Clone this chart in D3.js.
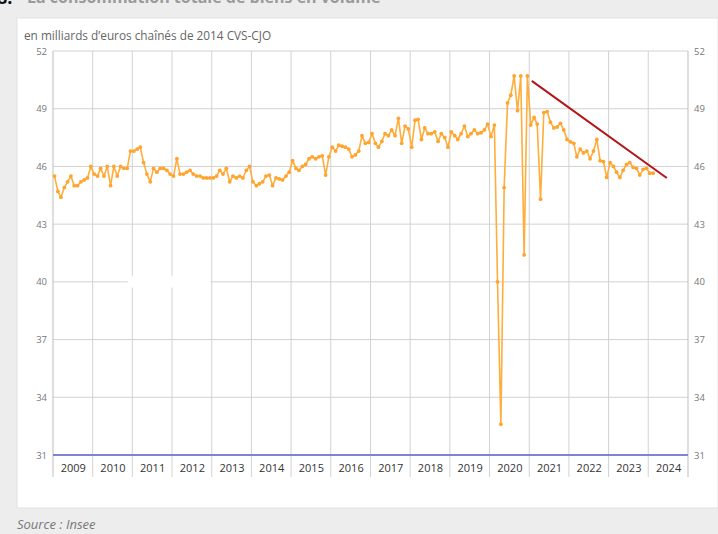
<!DOCTYPE html>
<html>
<head>
<meta charset="utf-8">
<script src="https://cdn.jsdelivr.net/npm/d3@7"></script>
<style>
  body { margin: 0; background: #ededed; font-family: "Open Sans", sans-serif; }
  svg { display: block; }
</style>
</head>
<body>
<div class="svg-container"></div>
<script>
// consommation totale de biens, mensuel, en milliards d'euros chaînés de 2014
const startYear = 2009;
const c2009 = [45.5, 44.7, 44.4, 44.9, 45.2, 45.5, 45.0, 45.0, 45.2, 45.3, 45.4, 46.0];
const c2010 = [45.6, 45.5, 45.9, 45.5, 46.0, 45.0, 46.0, 45.5, 46.0, 45.9, 45.9, 46.8];
const c2011 = [46.8, 46.9, 47.0, 46.2, 45.6, 45.2, 45.9, 45.7, 45.9, 45.9, 45.8, 45.6];
const c2012 = [45.5, 46.4, 45.6, 45.6, 45.7, 45.8, 45.6, 45.5, 45.5, 45.4, 45.4, 45.4];
const c2013 = [45.4, 45.5, 45.8, 45.6, 45.9, 45.2, 45.5, 45.4, 45.5, 45.4, 45.8, 46.0];
const c2014 = [45.2, 45.0, 45.1, 45.2, 45.5, 45.55, 45.0, 45.4, 45.35, 45.3, 45.5, 45.7];
const c2015 = [46.3, 45.9, 45.8, 46.0, 46.1, 46.4, 46.5, 46.4, 46.5, 46.55, 45.55, 46.5];
const c2016 = [47.0, 46.8, 47.1, 47.05, 47.0, 46.9, 46.5, 46.6, 46.8, 47.6, 47.2, 47.25];
const c2017 = [47.7, 47.2, 47.0, 47.3, 47.7, 47.6, 47.9, 47.6, 48.5, 47.2, 48.1, 47.95];
const c2018 = [47.0, 48.4, 48.45, 47.4, 48.0, 47.7, 47.7, 47.8, 47.3, 47.7, 47.5, 47.0];
const c2019 = [47.8, 47.6, 47.4, 47.7, 48.1, 47.55, 47.7, 47.9, 47.7, 47.75, 47.9, 48.2];
const c2020 = [47.55, 48.15, 40.0, 32.6, 44.9, 49.3, 49.7, 50.7, 48.9, 50.7, 41.4, 50.7];
const c2021 = [48.15, 48.55, 48.2, 44.3, 48.8, 48.85, 48.3, 48.0, 48.05, 48.24, 47.9, 47.4];
const c2022 = [47.28, 47.2, 46.5, 46.9, 46.7, 46.8, 46.4, 46.8, 47.4, 46.3, 46.25, 45.43];
const c2023 = [46.2, 46.0, 45.7, 45.43, 45.8, 46.1, 46.2, 45.95, 45.9, 45.55, 45.85, 45.9];
const c2024 = [45.65, 45.65];

const yTicks = [31, 34, 37, 40, 43, 46, 49, 52];
const yearLabels = ['2009', '2010', '2011', '2012', '2013', '2014', '2015', '2016',
  '2017', '2018', '2019', '2020', '2021', '2022', '2023', '2024'];
// flèche de tendance ajoutée à la main (date, valeur)
const trendStart = ['2021-01-24', 50.45];
const trendEnd = ['2024-06-20', 45.4];

const outerWidth = 718;
const outerHeight = 534;
const plot = { left: 53, right: 688, top: 51, bottom: 455 };

const data = [c2009, c2010, c2011, c2012, c2013, c2014, c2015, c2016,
  c2017, c2018, c2019, c2020, c2021, c2022, c2023, c2024]
  .flatMap((vals, i) => vals.map((v, m) => ({ date: new Date(startYear + i, m, 15), value: v })));

const svg = d3.select('.svg-container')
  .append('svg')
  .attr('width', outerWidth)
  .attr('height', outerHeight);

// titre coupé en haut, comme sur la capture
svg.append('text')
  .attr('x', -3).attr('y', 4)
  .style('font-size', '18px').style('font-weight', 'bold')
  .attr('fill', '#111')
  .text('8.');
svg.append('text')
  .attr('x', 27).attr('y', 3)
  .style('font-size', '16px').style('font-weight', 'bold')
  .attr('fill', '#9a9a9a')
  .text('La consommation totale de biens en volume');

// panneau blanc
svg.append('rect')
  .attr('x', 17).attr('y', 18)
  .attr('width', outerWidth - 17).attr('height', 490)
  .attr('fill', '#fff')
  .attr('stroke', '#e2e2e2');

svg.append('text')
  .attr('x', 24).attr('y', 40)
  .style('font-size', '11.8px')
  .attr('fill', '#666')
  .text('en milliards d\u2019euros chaînés de 2014 CVS-CJO');

svg.append('text')
  .attr('x', 17).attr('y', 529)
  .style('font-size', '13px').style('font-style', 'italic')
  .attr('fill', '#777')
  .text('Source : Insee');

const xScale = d3.scaleTime()
  .domain([new Date(2009, 0, 1), new Date(2025, 0, 1)])
  .range([plot.left, plot.right]);

const yScale = d3.scaleLinear()
  .domain([31, 52])
  .range([plot.bottom, plot.top]);

const yearStarts = d3.range(2009, 2026).map(y => new Date(y, 0, 1));

// grille
svg.append('g')
  .selectAll('line')
  .data(yTicks.slice(1))
  .enter()
  .append('line')
  .attr('x1', plot.left).attr('x2', plot.right)
  .attr('y1', d => yScale(d)).attr('y2', d => yScale(d))
  .attr('stroke', '#d2d2d2');

svg.append('g')
  .selectAll('line')
  .data(yearStarts)
  .enter()
  .append('line')
  .attr('x1', d => xScale(d)).attr('x2', d => xScale(d))
  .attr('y1', plot.top).attr('y2', plot.bottom + 22)
  .attr('stroke', (d, i) => i === 0 || i === yearStarts.length - 1 ? '#bdbdbd' : '#d2d2d2');

// tache blanche sur la grille
const smudge = [new Date(2010, 10, 20), new Date(2012, 11, 20)];
svg.append('rect')
  .attr('x', xScale(smudge[0]))
  .attr('width', xScale(smudge[1]) - xScale(smudge[0]))
  .attr('y', yScale(40.3))
  .attr('height', yScale(39.7) - yScale(40.3))
  .attr('fill', '#fff');

// axe du bas
svg.append('line')
  .attr('x1', plot.left).attr('x2', plot.right)
  .attr('y1', yScale(31)).attr('y2', yScale(31))
  .attr('stroke', '#7e84d3')
  .attr('stroke-width', 2);

const yLeft = d3.axisLeft(yScale).tickValues(yTicks).tickSize(0).tickPadding(6);
const yRight = d3.axisRight(yScale).tickValues(yTicks).tickSize(0).tickPadding(6);

svg.append('g')
  .attr('transform', `translate(${plot.left}, 0)`)
  .call(yLeft)
  .call(g => g.select('.domain').remove())
  .selectAll('text')
  .style('font-family', '"Open Sans", sans-serif')
  .style('font-size', '9.5px')
  .attr('fill', '#777');

svg.append('g')
  .attr('transform', `translate(${plot.right}, 0)`)
  .call(yRight)
  .call(g => g.select('.domain').remove())
  .selectAll('text')
  .style('font-family', '"Open Sans", sans-serif')
  .style('font-size', '9.5px')
  .attr('fill', '#777');

const xAxis = d3.axisBottom(xScale)
  .tickValues(yearLabels.map(y => new Date(+y, 6, 2)))
  .tickFormat((d, i) => yearLabels[i])
  .tickSize(0)
  .tickPadding(9);

svg.append('g')
  .attr('transform', `translate(0, ${plot.bottom})`)
  .call(xAxis)
  .call(g => g.select('.domain').remove())
  .selectAll('text')
  .style('font-family', '"Open Sans", sans-serif')
  .style('font-size', '11px')
  .attr('fill', '#333');

// série
const line = d3.line()
  .x(d => xScale(d.date))
  .y(d => yScale(d.value));

svg.append('path')
  .datum(data)
  .attr('d', line)
  .attr('fill', 'none')
  .attr('stroke', '#ffad3b')
  .attr('stroke-width', 1.6)
  .attr('stroke-linejoin', 'round');

svg.selectAll('circle.dot')
  .data(data)
  .enter()
  .append('circle')
  .attr('class', 'dot')
  .attr('cx', d => xScale(d.date))
  .attr('cy', d => yScale(d.value))
  .attr('r', 1.9)
  .attr('fill', '#ffa42e');

// flèche de tendance
svg.append('line')
  .attr('x1', xScale(new Date(trendStart[0]))).attr('y1', yScale(trendStart[1]))
  .attr('x2', xScale(new Date(trendEnd[0]))).attr('y2', yScale(trendEnd[1]))
  .attr('stroke', '#b3151b')
  .attr('stroke-width', 2);
</script>
</body>
</html>
